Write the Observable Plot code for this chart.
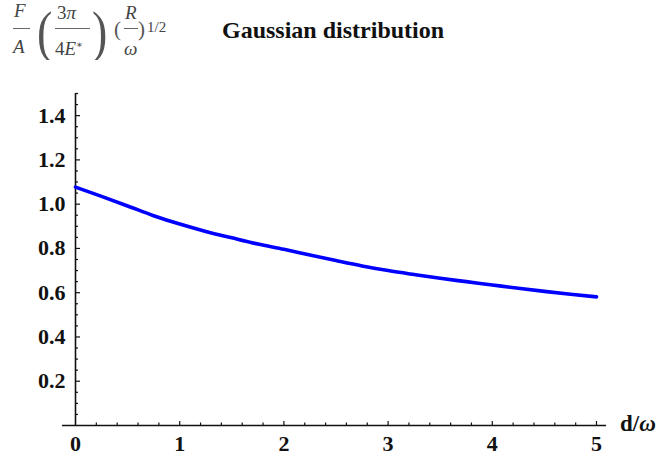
<!DOCTYPE html>
<html>
<head>
<meta charset="utf-8">
<script src="https://cdn.jsdelivr.net/npm/d3@7"></script>
<script src="https://cdn.jsdelivr.net/npm/@observablehq/plot@0.6"></script>
<style>
  html, body { margin: 0; padding: 0; background: #fff; }
  #wrap { position: relative; width: 661px; height: 457px; overflow: hidden; }
  .f { position: absolute; font-family: "Liberation Serif", "DejaVu Serif", serif; color: #444; font-style: italic; line-height: 1; white-space: nowrap; }
  .up { font-style: normal; }
  .bar { position: absolute; height: 1px; background: #666; }
  #title { position: absolute; left: 222px; top: 18px; font-family: "Liberation Serif", serif; font-weight: bold; font-size: 24px; color: #111; white-space: nowrap; line-height: 1; }
  #chart { position: absolute; left: 0; top: 60px; }
  #xlabel { position: absolute; left: 620px; top: 412px; font-family: "Liberation Serif", serif; font-weight: bold; font-size: 23px; color: #111; line-height: 1; white-space: nowrap; }
</style>
</head>
<body>
<div id="wrap">
  <span class="f" style="left:14px;top:1px;font-size:19px;">F</span>
  <div class="bar" style="left:13px;top:28px;width:17px;"></div>
  <span class="f" style="left:13px;top:37px;font-size:19px;">A</span>

  <span class="f up" style="left:37px;top:3px;font-size:46px;color:#555;transform:scaleY(1.25);transform-origin:0 0;">(</span>
  <span class="f up" style="left:57px;top:3px;font-size:19px;">3<i>π</i></span>
  <div class="bar" style="left:55px;top:28px;width:35px;"></div>
  <span class="f" style="left:55px;top:39px;font-size:19px;"><span class="up">4</span>E<sup style="font-size:10px;">∗</sup></span>
  <span class="f up" style="left:92px;top:3px;font-size:46px;color:#555;transform:scaleY(1.25);transform-origin:0 0;">)</span>

  <span class="f up" style="left:114px;top:19px;font-size:21px;color:#555;">(</span>
  <span class="f" style="left:125px;top:3px;font-size:19px;">R</span>
  <div class="bar" style="left:124px;top:28px;width:14px;"></div>
  <span class="f" style="left:124px;top:39px;font-size:19px;">ω</span>
  <span class="f up" style="left:138px;top:19px;font-size:21px;color:#555;">)</span>
  <span class="f up" style="left:147px;top:20px;font-size:15px;">1/2</span>

  <div id="title">Gaussian distribution</div>
  <div id="chart"></div>
  <div id="xlabel">d/<i style="font-weight:bold;">ω</i></div>
</div>
<script>
// Data (d/ω vs normalized force)
const dValues = [0, 0.25, 0.5, 0.75, 1.0, 1.25, 1.5, 1.75, 2.0, 2.25, 2.5, 2.75, 3.0, 3.25, 3.5, 3.75, 4.0, 4.25, 4.5, 4.75, 5.0];
const forceValues = [1.077, 1.035, 0.992, 0.948, 0.910, 0.877, 0.848, 0.820, 0.796, 0.770, 0.745, 0.721, 0.700, 0.682, 0.665, 0.650, 0.635, 0.620, 0.606, 0.593, 0.581];

// Tick labels
const xTickLabels = [0, 1, 2, 3, 4, 5];
const yTickLabels = [0.2, 0.4, 0.6, 0.8, 1.0, 1.2, 1.4];

const data = dValues.map((d, i) => ({d, f: forceValues[i]}));

// tick mark positions (majors + minors)
const xMajorTicks = [1, 2, 3, 4, 5];
const xMinorTicks = d3.range(1, 26).map(k => k / 5).filter(v => Math.abs(v - Math.round(v)) > 1e-9);
const yMajorTicks = yTickLabels;
const yMinorTicks = d3.range(1, 31).map(k => k / 20).filter(v => Math.abs(v * 5 - Math.round(v * 5)) > 1e-9);

const W = 661, H = 397, ML = 75, MR = 65, MT = 33, MB = 32;
const frameW = W - ML - MR, frameH = H - MT - MB;

const chart = Plot.plot({
  width: W,
  height: H,
  marginLeft: ML,
  marginRight: MR,
  marginTop: MT,
  marginBottom: MB,
  style: {fontFamily: "'Liberation Serif', serif", fontWeight: "bold", fontSize: "22px", color: "#111", background: "#fff"},
  x: {domain: [0, 5], ticks: xTickLabels, tickSize: 0, tickPadding: 10, label: null, tickFormat: d3.format("d")},
  y: {domain: [0, 1.5], ticks: yTickLabels, tickSize: 0, tickPadding: 10, label: null, tickFormat: d3.format(".1f")},
  marks: [
    Plot.ruleX(xMinorTicks, {insetTop: frameH - 2.5, stroke: "#111", strokeWidth: 1.2}),
    Plot.ruleX(xMajorTicks, {insetTop: frameH - 4, stroke: "#111", strokeWidth: 1.2}),
    Plot.ruleY(yMinorTicks, {insetRight: frameW - 3, stroke: "#111", strokeWidth: 1.2}),
    Plot.ruleY(yMajorTicks, {insetRight: frameW - 5, stroke: "#111", strokeWidth: 1.2}),
    Plot.ruleY([0], {insetLeft: -13, insetRight: -10, stroke: "#111", strokeWidth: 1.6}),
    Plot.ruleX([0], {stroke: "#111", strokeWidth: 1.6}),
    Plot.line(data, {x: "d", y: "f", stroke: "#0000ff", strokeWidth: 3.6, curve: "monotone-x"})
  ]
});
document.getElementById("chart").appendChild(chart);
</script>
</body>
</html>
